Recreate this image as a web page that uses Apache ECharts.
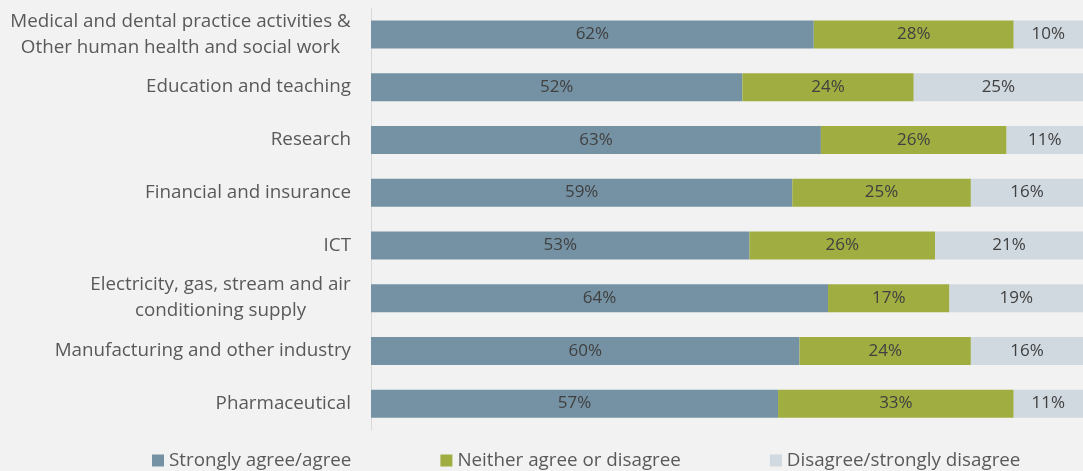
<!DOCTYPE html>
<html>
<head>
<meta charset="utf-8">
<script src="https://cdn.jsdelivr.net/npm/echarts@6/dist/echarts.min.js"></script>
<style>
  html, body { margin: 0; padding: 0; background: #f2f2f2; }
  #chart { width: 1083px; height: 471px; }
</style>
</head>
<body>
<div id="chart"></div>
<script>
var categories = [
  'Medical and dental practice activities &\nOther human health and social work',
  'Education and teaching',
  'Research',
  'Financial and insurance',
  'ICT',
  'Electricity, gas, stream and air\nconditioning supply',
  'Manufacturing and other industry',
  'Pharmaceutical'
];
var agree = [62, 52, 63, 59, 53, 64, 60, 57];
var neither = [28, 24, 26, 25, 26, 17, 24, 33];
var disagree = [10, 25, 11, 16, 21, 19, 16, 11];
var seriesNames = ['Strongly agree/agree', 'Neither agree or disagree', 'Disagree/strongly disagree'];
var colors = ['#7592a4', '#9fad41', '#d0d8e0'];

var FONT = '"Open Sans", "Noto Sans", sans-serif';
var LABEL_SIZE = 18.8;

// centre the lines of wrapped category labels like the original
var measure = document.createElement('canvas').getContext('2d');
measure.font = LABEL_SIZE + 'px "Open Sans"';
var rich = {};
categories.forEach(function (c, i) {
  var lines = c.split('\n');
  if (lines.length > 1) {
    var w = 0;
    lines.forEach(function (l) { w = Math.max(w, measure.measureText(l).width); });
    rich['m' + i] = {
      width: Math.ceil(w), align: 'center',
      fontFamily: FONT, fontSize: LABEL_SIZE, color: '#595959', lineHeight: 26
    };
  }
});

function makeSeries(name, data, color) {
  return {
    name: name,
    type: 'bar',
    stack: 'total',
    barWidth: 28,
    data: data,
    itemStyle: { color: color },
    label: {
      show: true,
      position: 'inside',
      formatter: '{c}%',
      color: '#404040',
      fontFamily: FONT,
      fontSize: 17
    }
  };
}

var chart = echarts.init(document.getElementById('chart'));
chart.setOption({
  backgroundColor: '#f2f2f2',
  animation: false,
  grid: { left: 371, right: 0, top: 8, bottom: 41 },
  legend: {
    data: seriesNames,
    left: 147,
    top: 446,
    itemWidth: 12,
    itemHeight: 12,
    itemGap: 89,
    icon: 'rect',
    textStyle: { color: '#595959', fontFamily: FONT, fontSize: 18.8 }
  },
  xAxis: {
    type: 'value',
    min: 0,
    max: 99.7,   // the original is cropped a little past 100%
    show: false
  },
  yAxis: {
    type: 'category',
    inverse: true,
    data: categories,
    axisLine: { show: true, lineStyle: { color: '#d9d9d9', width: 1 } },
    axisTick: { show: false },
    axisLabel: {
      margin: 20,
      color: '#595959',
      fontFamily: FONT,
      fontSize: LABEL_SIZE,
      lineHeight: 26,
      formatter: function (value, idx) {
        var lines = value.split('\n');
        if (lines.length === 1) return value;
        return lines.map(function (l) { return '{m' + idx + '|' + l + '}'; }).join('\n');
      },
      rich: rich
    }
  },
  series: [
    makeSeries(seriesNames[0], agree, colors[0]),
    makeSeries(seriesNames[1], neither, colors[1]),
    makeSeries(seriesNames[2], disagree, colors[2])
  ]
});
</script>
</body>
</html>
